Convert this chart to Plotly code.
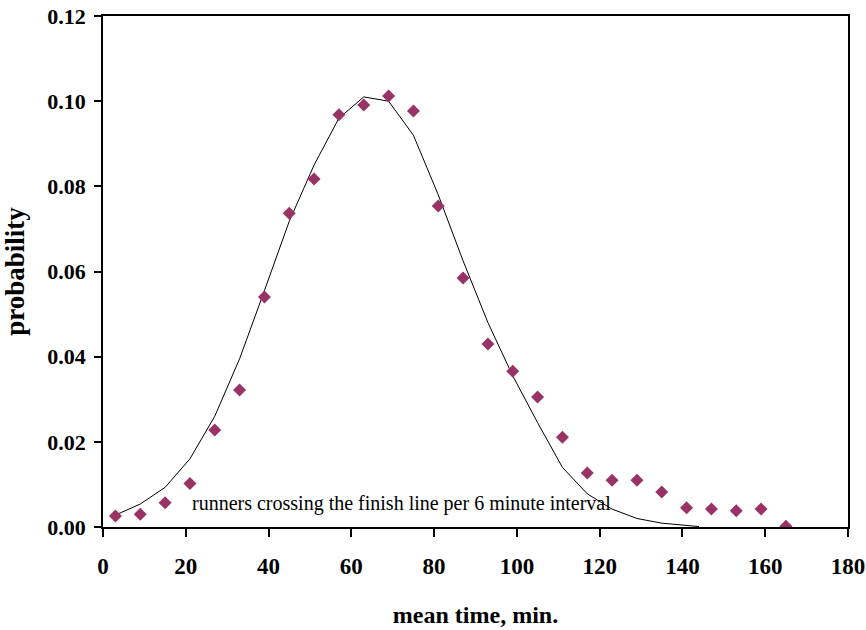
import plotly.graph_objects as go

# observed: runners per 6-minute interval
obs_x = [3, 9, 15, 21, 27, 33, 39, 45, 51, 57, 63, 69, 75, 81, 87, 93, 99, 105,
         111, 117, 123, 129, 135, 141, 147, 153, 159, 165]
obs_y = [0.0026, 0.0030, 0.0057, 0.0102, 0.0228, 0.0322, 0.0540, 0.0737, 0.0817,
         0.0968, 0.0991, 0.1012, 0.0977, 0.0754, 0.0585, 0.0430, 0.0366, 0.0305,
         0.0211, 0.0127, 0.0110, 0.0110, 0.0082, 0.0045, 0.0042, 0.0038, 0.0042,
         0.0002]

# fitted curve
fit_x = [3, 9, 15, 21, 27, 33, 39, 45, 51, 57, 63, 69, 75, 81, 87, 93, 99, 105,
         111, 117, 123, 129, 135, 141, 144]
fit_y = [0.0028, 0.0054, 0.0093, 0.0160, 0.0260, 0.0395, 0.0555, 0.0718, 0.0850,
         0.0960, 0.1010, 0.1000, 0.0920, 0.0780, 0.0625, 0.0480, 0.0355, 0.0245,
         0.0140, 0.0078, 0.0042, 0.0020, 0.0009, 0.0003, 0.0001]

x_ticks = [0, 20, 40, 60, 80, 100, 120, 140, 160, 180]
y_ticks = [0.00, 0.02, 0.04, 0.06, 0.08, 0.10, 0.12]

SERIF = "Liberation Serif, Times New Roman, serif"

fig = go.Figure()
fig.add_trace(go.Scatter(x=fit_x, y=fit_y, mode="lines",
                         line=dict(color="black", width=1), showlegend=False))
fig.add_trace(go.Scatter(x=obs_x, y=obs_y, mode="markers",
                         marker=dict(symbol="diamond", size=10, color="#993366"),
                         showlegend=False))

fig.add_annotation(x=21, y=0.0056, xref="x", yref="y", xanchor="left", yanchor="middle",
                   text="runners crossing the finish line per 6 minute interval",
                   showarrow=False, font=dict(family=SERIF, size=20, color="black"))

fig.update_layout(
    width=866, height=630,
    margin=dict(l=103, r=18, t=16, b=103),
    plot_bgcolor="white", paper_bgcolor="white",
    font=dict(family=SERIF, color="black"),
)
fig.update_xaxes(range=[0, 180], tickvals=x_ticks, ticks="outside", ticklen=8,
                 tickwidth=1.5, tickcolor="black", automargin=False,
                 ticklabelstandoff=10,
                 showline=True, linecolor="black", linewidth=1.5, mirror=True,
                 showgrid=False, zeroline=False,
                 tickfont=dict(family=SERIF, size=23, color="black", weight="bold"),
                 title=dict(text="mean time, min.", standoff=28,
                            font=dict(family=SERIF, size=24, color="black", weight="bold")))
fig.update_yaxes(range=[0, 0.12], tickvals=y_ticks, tickformat=".2f", ticks="outside",
                 ticklen=7, tickwidth=1.5, tickcolor="black", automargin=False,
                 ticklabelstandoff=4,
                 showline=True, linecolor="black", linewidth=1.5, mirror=True,
                 showgrid=False, zeroline=False,
                 tickfont=dict(family=SERIF, size=22, color="black", weight="bold"),
                 title=dict(text="probability", standoff=22,
                            font=dict(family=SERIF, size=27, color="black", weight="bold")))

fig.write_html("out.html")
